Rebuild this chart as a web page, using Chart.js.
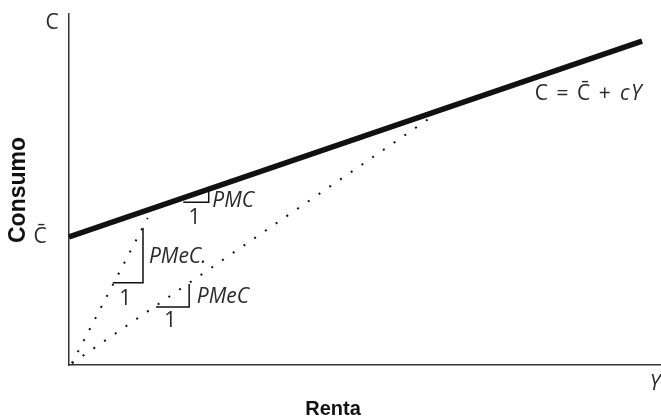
<!DOCTYPE html>
<html>
<head>
<meta charset="utf-8">
<title>Consumo y renta</title>
<script src="https://cdn.jsdelivr.net/npm/chart.js@4.4.1/dist/chart.umd.min.js"></script>
<style>
  html, body { margin: 0; padding: 0; background: #fff; }
  #wrap { width: 661px; height: 419px; }
</style>
</head>
<body>
<div id="wrap"><canvas id="chart"></canvas></div>
<script>
// Consumption function C = Cbar + cY (endpoints, in chart units)
const rentaX = [0, 96.8];
const consumoY = [36.5, 92.3];

// Dotted rays from the origin (average propensity)
const rayoAltoX = [0.5, 13.3];
const rayoAltoY = [0.5, 41.9];
const rayoBajoX = [0.5, 61.0];
const rayoBajoY = [0.5, 70.4];

// Small slope triangles
const triPMeC1X = [7.4, 12.5, 12.5];
const triPMeC1Y = [23.4, 23.4, 39.0];
const triPMeC2X = [14.7, 20.3, 20.3];
const triPMeC2Y = [16.5, 16.5, 23.1];
const triPMCX = [19.3, 23.6, 23.6];
const triPMCY = [46.4, 46.4, 50.0];

// Text notes
const notes = [
  { text: 'PMC', x: 24.2, y: 46.6, italic: true, align: 'left' },
  { text: '1', x: 21.2, y: 42.0, italic: false, align: 'center' },
  { text: 'PMeC.', x: 13.5, y: 30.8, italic: true, align: 'left' },
  { text: '1', x: 9.5, y: 18.9, italic: false, align: 'center' },
  { text: 'PMeC', x: 21.6, y: 19.4, italic: true, align: 'left' },
  { text: '1', x: 17.1, y: 12.6, italic: false, align: 'center' }
];

function pts(xs, ys) {
  return xs.map((x, i) => ({ x: x, y: ys[i] }));
}

const thin = { borderColor: '#111', borderWidth: 1.5, pointRadius: 0, showLine: true, fill: false, tension: 0 };

const datasets = [
  { label: 'C', data: pts(rentaX, consumoY), borderColor: '#111', borderWidth: 5.5, pointRadius: 0, showLine: true, borderCapStyle: 'butt' },
  { label: 'PMeC alta', data: pts(rayoAltoX, rayoAltoY), borderColor: '#111', borderWidth: 2, borderDash: [2, 10.5], pointRadius: 0, showLine: true },
  { label: 'PMeC baja', data: pts(rayoBajoX, rayoBajoY), borderColor: '#111', borderWidth: 2, borderDash: [2, 11], pointRadius: 0, showLine: true },
  Object.assign({ label: 't1', data: pts(triPMeC1X, triPMeC1Y) }, thin),
  Object.assign({ label: 't2', data: pts(triPMeC2X, triPMeC2Y) }, thin),
  Object.assign({ label: 't3', data: pts(triPMCX, triPMCY) }, thin)
];

const FONT = '"Open Sans", "DejaVu Sans", sans-serif';
const BOLD = '"Liberation Sans", sans-serif';

const textPlugin = {
  id: 'textos',
  afterDraw(chart) {
    const c = chart.ctx;
    const xs = chart.scales.x, ys = chart.scales.y;
    c.save();
    c.fillStyle = '#2a2a2a';
    c.textBaseline = 'middle';

    notes.forEach(n => {
      c.font = (n.italic ? 'italic ' : '') + '400 21px ' + FONT;
      c.textAlign = n.align;
      c.fillText(n.text, xs.getPixelForValue(n.x), ys.getPixelForValue(n.y));
    });

    // equation, right aligned near the end of the line
    const ex = xs.getPixelForValue(97.0), ey = ys.getPixelForValue(77.2);
    c.letterSpacing = '1.5px';
    c.font = 'italic 400 21px ' + FONT;
    const tail = 'cY';
    const wTail = c.measureText(tail).width;
    c.textAlign = 'right';
    c.fillText(tail, ex, ey);
    c.font = '400 21px ' + FONT;
    c.fillText('C = C\u0304 + ', ex - wTail - 1, ey);
    c.letterSpacing = '0px';

    // axis names
    const left = chart.chartArea.left, bottom = chart.chartArea.bottom;
    c.font = '400 21px ' + FONT;
    c.textAlign = 'center';
    c.fillText('C', left - 17, ys.getPixelForValue(97.4));
    c.fillText('C\u0304', left - 29, ys.getPixelForValue(consumoY[0]));
    c.font = 'italic 400 21px ' + FONT;
    c.fillText('Y', 655, bottom + 19);

    c.fillStyle = '#111';
    c.font = 'bold 20px ' + BOLD;
    c.fillText('Renta', 333, 409);
    c.font = 'bold 23px ' + BOLD;
    c.translate(19, 190);
    c.rotate(-Math.PI / 2);
    c.fillText('Consumo', 0, 0);
    c.restore();
  }
};

new Chart(document.getElementById('chart'), {
  type: 'scatter',
  data: { datasets: datasets },
  options: {
    responsive: true,
    maintainAspectRatio: false,
    animation: false,
    layout: { padding: { left: 69, top: 14, right: 0, bottom: 54 } },
    plugins: { legend: { display: false }, tooltip: { enabled: false } },
    scales: {
      x: {
        type: 'linear', min: 0, max: 100,
        grid: { display: false, drawTicks: false },
        border: { display: true, color: '#333', width: 1.5 },
        ticks: { display: false }
      },
      y: {
        type: 'linear', min: 0, max: 100,
        grid: { display: false, drawTicks: false },
        border: { display: true, color: '#333', width: 1.5 },
        ticks: { display: false }
      }
    }
  },
  plugins: [textPlugin]
});
</script>
</body>
</html>
